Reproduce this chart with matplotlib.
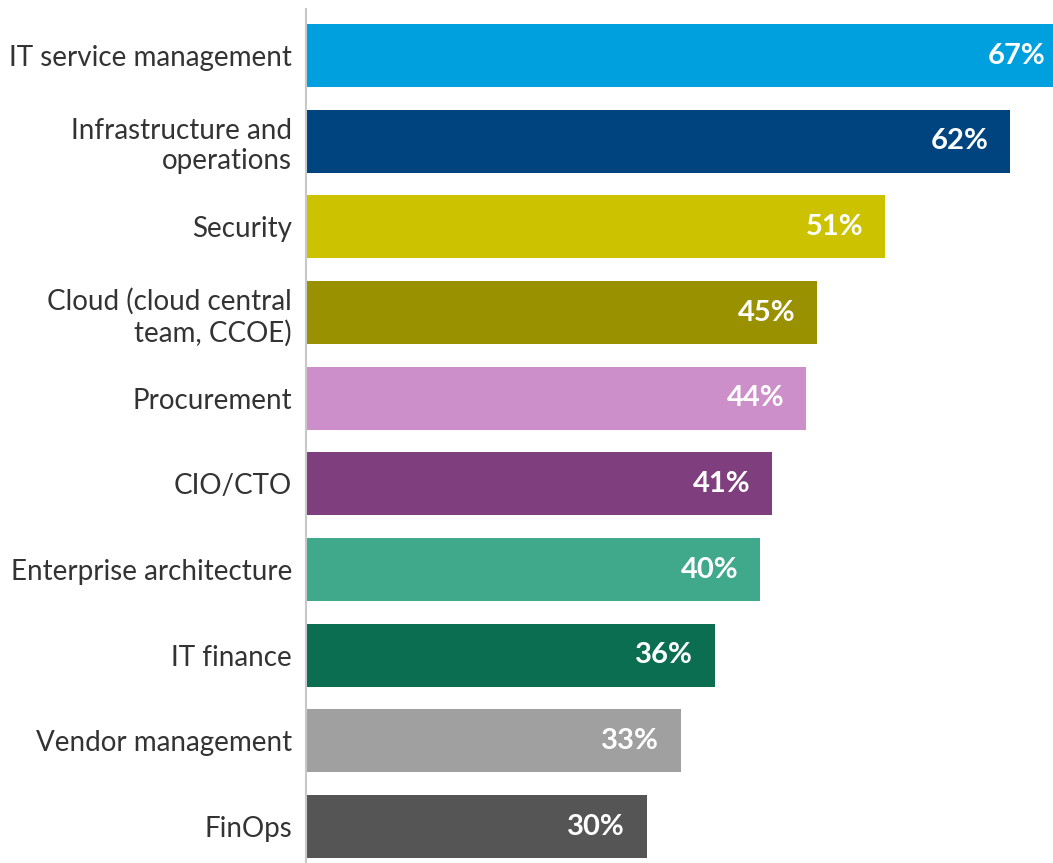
import matplotlib.pyplot as plt

# data
categories = ['IT service management', 'Infrastructure and\noperations', 'Security',
              'Cloud (cloud central\nteam, CCOE)', 'Procurement', 'CIO/CTO',
              'Enterprise architecture', 'IT finance', 'Vendor management', 'FinOps']
values = [67, 62, 51, 45, 44, 41, 40, 36, 33, 30]
colors = ['#00a0df', '#00447f', '#ccc200', '#9a9100', '#cc8fca',
          '#7f3f7f', '#40a88b', '#0c6e50', '#a0a0a0', '#555555']

plt.rcParams['font.family'] = ['Lato', 'DejaVu Sans']

fig = plt.figure(figsize=(10.53, 8.63), dpi=100)
ax = fig.add_axes([306 / 1053, 0, 1 - 306 / 1053, 1 - 9 / 863])

pos = list(range(len(values)))
ax.barh(pos, values, height=0.735, color=colors)

# value labels inside the bar ends
for y, v in zip(pos, values):
    ax.text(v - 1.9, y, f'{v}%', ha='right', va='center', color='white',
            fontsize=21, fontweight='bold')

ax.set_xlim(0, 65.76)
ax.set_ylim(9.426, -0.543)
ax.set_yticks(pos)
ax.set_yticklabels(categories, fontsize=20, color='#333333', linespacing=1.2)
ax.tick_params(axis='y', length=0, pad=10)
ax.set_xticks([])

for s in ['top', 'right', 'bottom']:
    ax.spines[s].set_visible(False)
ax.spines['left'].set_color('#c8c8c8')
ax.spines['left'].set_linewidth(1.5)

fig.savefig('out.png', dpi=100)
